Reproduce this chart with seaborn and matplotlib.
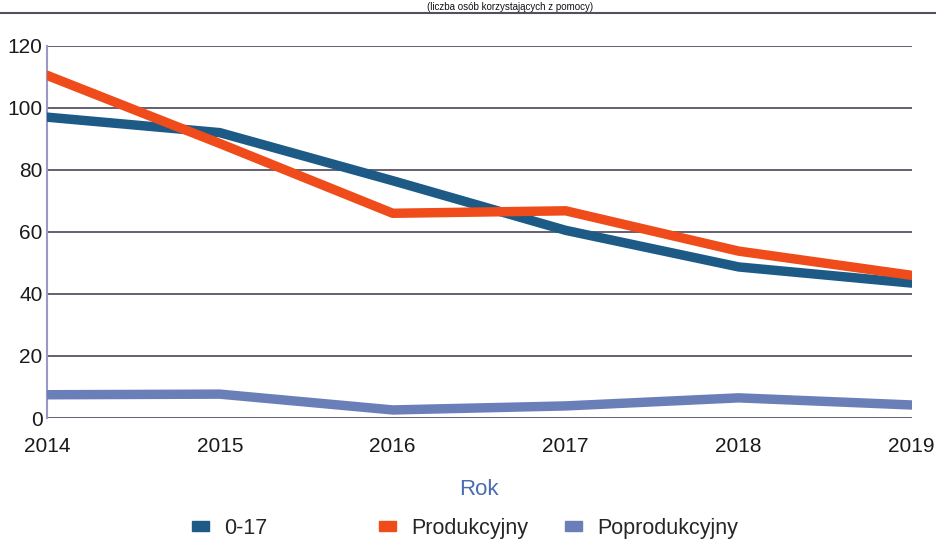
import matplotlib
matplotlib.use("Agg")
import matplotlib.pyplot as plt
import seaborn as sns
import pandas as pd
from matplotlib.lines import Line2D
from matplotlib.patches import Patch

years = [2014, 2015, 2016, 2017, 2018, 2019]
s_0_17 = [97, 92, 76.5, 60.5, 48.7, 43.5]
s_prod = [110.5, 88.5, 66, 66.8, 53.8, 46]
s_poprod = [7.5, 7.7, 2.6, 3.9, 6.5, 4.2]
series_names = ["0-17", "Produkcyjny", "Poprodukcyjny"]
colors = ["#1d5a86", "#ef4b1b", "#6a7fb8"]
y_ticks = [0, 20, 40, 60, 80, 100, 120]
title_text = "(liczba osób korzystających z pomocy)"

df = pd.DataFrame({
    "Rok": years * 3,
    "value": s_0_17 + s_prod + s_poprod,
    "series": [series_names[0]] * 6 + [series_names[1]] * 6 + [series_names[2]] * 6,
})

sns.set_theme(style="white")
plt.rcParams["font.family"] = ["Liberation Sans", "DejaVu Sans"]

fig = plt.figure(figsize=(9.36, 5.45), dpi=100)
ax = fig.add_axes([0.050, 0.233, 0.924, 0.683])

sns.lineplot(data=df, x="Rok", y="value", hue="series", hue_order=series_names,
             palette=colors, linewidth=6.8, ax=ax, legend=False, zorder=3)

ax.set_xlim(years[0], years[-1])
ax.set_ylim(0, 120)
ax.set_yticks(y_ticks)
ax.set_xticks(years)
ax.set_xticklabels([str(y) for y in years])
ax.yaxis.grid(True, color="#4a4558", linewidth=1.2)
ax.xaxis.grid(False)
for s in ["top", "right", "bottom"]:
    ax.spines[s].set_visible(False)
ax.spines["left"].set_color("#9a98c8")
ax.spines["left"].set_linewidth(1.5)
ax.tick_params(axis="y", labelsize=15, colors="#1a1a1a", pad=3, length=0)
ax.tick_params(axis="x", labelsize=15, colors="#1a1a1a", pad=14, length=0)
ax.set_ylabel("")
ax.set_xlabel("Rok", fontsize=16, color="#4a6cb0", labelpad=16)

# legend: three entries at their own positions
legend_left_px = [192, 379, 565]
for name, c, xl in zip(series_names, colors, legend_left_px):
    fig.legend([Patch(facecolor=c, edgecolor=c)], [name], loc="center left",
               bbox_to_anchor=(xl / 936, 0.031), frameon=False, borderpad=0,
               borderaxespad=0, handlelength=0.8, handleheight=0.37,
               handletextpad=0.7, fontsize=15.5)

# title (cut in the source) and rule beneath it
fig.text(0.545, 0.997, title_text, ha="center", va="top",
         fontsize=7, color="#111111")
fig.add_artist(Line2D([0, 1], [0.976, 0.976], color="#555060", linewidth=1.5,
                      transform=fig.transFigure))

fig.savefig("out.png", dpi=100, facecolor="white")
